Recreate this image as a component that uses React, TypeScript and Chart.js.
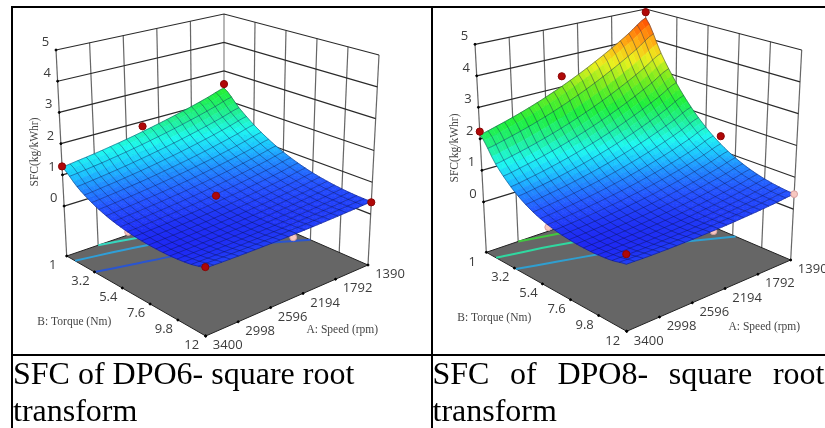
import React, { useEffect, useRef } from "react";
import { Chart, registerables } from "chart.js";

Chart.register(...registerables);

// Axis ticks
const SPEED_TICKS = [3400, 2998, 2596, 2194, 1792, 1390];
const TORQUE_TICKS = [1, 3.2, 5.4, 7.6, 9.8, 12];
const SFC_TICKS = [0, 1, 2, 3, 4, 5];
const SFC_FLOOR = -1.6;
const SFC_TOP = 5;

// Surface read-outs: one row per speed (3400 to 1390), one value per torque (1 to 12)
const SPEED_GRID = [3400, 3199, 2998, 2797, 2596, 2395, 2194, 1993, 1792, 1591, 1390];
const TORQUE_GRID = [1, 2.1, 3.2, 4.3, 5.4, 6.5, 7.6, 8.7, 9.8, 10.9, 12];

const DPO6_3400 = [1.25, 0.858, 0.588, 0.408, 0.294, 0.228, 0.198, 0.197, 0.226, 0.289, 0.399];
const DPO6_3199 = [1.312, 0.913, 0.634, 0.445, 0.323, 0.25, 0.214, 0.207, 0.228, 0.283, 0.379];
const DPO6_2998 = [1.383, 0.976, 0.687, 0.488, 0.357, 0.277, 0.233, 0.22, 0.235, 0.28, 0.363];
const DPO6_2797 = [1.466, 1.049, 0.749, 0.539, 0.398, 0.308, 0.257, 0.237, 0.244, 0.28, 0.351];
const DPO6_2596 = [1.559, 1.131, 0.819, 0.598, 0.445, 0.346, 0.286, 0.258, 0.258, 0.285, 0.344];
const DPO6_2395 = [1.664, 1.225, 0.9, 0.665, 0.5, 0.39, 0.32, 0.284, 0.276, 0.294, 0.341];
const DPO6_2194 = [1.782, 1.33, 0.991, 0.742, 0.564, 0.441, 0.361, 0.315, 0.298, 0.306, 0.342];
const DPO6_1993 = [1.914, 1.448, 1.094, 0.829, 0.636, 0.5, 0.408, 0.352, 0.324, 0.323, 0.347];
const DPO6_1792 = [2.06, 1.58, 1.21, 0.929, 0.72, 0.569, 0.463, 0.395, 0.356, 0.344, 0.357];
const DPO6_1591 = [2.223, 1.728, 1.34, 1.041, 0.815, 0.647, 0.527, 0.445, 0.395, 0.371, 0.371];
const DPO6_1390 = [2.403, 1.891, 1.484, 1.167, 0.922, 0.737, 0.6, 0.504, 0.439, 0.402, 0.389];

const DPO8_3400 = [2.132, 1.428, 0.941, 0.616, 0.41, 0.286, 0.221, 0.198, 0.212, 0.265, 0.372];
const DPO8_3199 = [2.261, 1.534, 1.025, 0.68, 0.456, 0.319, 0.243, 0.211, 0.216, 0.259, 0.349];
const DPO8_2998 = [2.412, 1.659, 1.124, 0.757, 0.514, 0.361, 0.272, 0.23, 0.226, 0.258, 0.334];
const DPO8_2797 = [2.588, 1.806, 1.243, 0.849, 0.583, 0.412, 0.309, 0.256, 0.242, 0.264, 0.326];
const DPO8_2596 = [2.79, 1.975, 1.38, 0.958, 0.668, 0.476, 0.356, 0.29, 0.265, 0.276, 0.325];
const DPO8_2395 = [3.021, 2.17, 1.541, 1.086, 0.768, 0.553, 0.414, 0.333, 0.295, 0.294, 0.331];
const DPO8_2194 = [3.282, 2.392, 1.725, 1.236, 0.887, 0.645, 0.485, 0.386, 0.334, 0.321, 0.343];
const DPO8_1993 = [3.577, 2.645, 1.937, 1.409, 1.026, 0.755, 0.571, 0.451, 0.383, 0.355, 0.364];
const DPO8_1792 = [3.908, 2.931, 2.178, 1.609, 1.189, 0.885, 0.673, 0.531, 0.443, 0.398, 0.392];
const DPO8_1591 = [4.278, 3.253, 2.453, 1.839, 1.377, 1.037, 0.794, 0.625, 0.516, 0.453, 0.429];
const DPO8_1390 = [4.692, 3.614, 2.763, 2.101, 1.595, 1.215, 0.936, 0.738, 0.603, 0.519, 0.476];

const DPO6_TABLE = [DPO6_3400, DPO6_3199, DPO6_2998, DPO6_2797, DPO6_2596, DPO6_2395, DPO6_2194, DPO6_1993, DPO6_1792, DPO6_1591, DPO6_1390];
const DPO8_TABLE = [DPO8_3400, DPO8_3199, DPO8_2998, DPO8_2797, DPO8_2596, DPO8_2395, DPO8_2194, DPO8_1993, DPO8_1792, DPO8_1591, DPO8_1390];

// Design points: [speed, torque, SFC]
const DPO6_ABOVE = [[3400, 1, 1.27], [2395, 1, 1.84], [1390, 1, 2.54], [1390, 12, 0.37], [3400, 12, 0.43], [2395, 6.5, 0.6]];
const DPO6_BELOW = [[3400, 6, 0.26], [2335, 12, 0.26]];
const DPO6_TIP: number[][] = [];
const DPO8_ABOVE = [[3400, 1, 2.23], [2395, 1, 3.35], [1390, 1, 4.89], [1390, 6.5, 1.47], [3400, 12, 0.67]];
const DPO8_BELOW = [[3400, 6, 0.27], [2355, 12, 0.32]];
const DPO8_TIP = [[1390, 12, 0.47]];

// Floor contours: torque at each speed
const CONTOUR_SPEEDS = [3400, 2998, 2596, 2194, 1792, 1390];
const DPO6_C_LOW = [3.2, 3.75, 4.3, 5, 6.1, 7.6];
const DPO6_C_MID = [1.66, 2.05, 2.54, 3.2, 3.97, 5.07];
const DPO6_C_HIGH = [null, 1, 1.55, 2.2, 2.87, 4.08];
const DPO8_C_LOW = [3.31, 3.97, 4.63, 5.4, 6.5, 7.82];
const DPO8_C_MID = [1.77, 2.21, 2.79, 3.48, 4.3, 5.4];
const DPO8_C_HIGH = [null, 1, 1.53, 2.1, 2.7, 3.48];

// Colour ramp of the surface, by SFC
const RAMP_SFC = [0.2, 0.5, 0.8, 1.05, 1.4, 1.8, 2.3, 2.9, 3.5, 4.0, 4.7];
const RAMP_RGB = [
  [30, 40, 245], [36, 84, 255], [32, 140, 255], [28, 195, 255], [30, 248, 240], [32, 240, 150],
  [32, 240, 60], [115, 235, 30], [235, 240, 30], [255, 175, 20], [255, 70, 0],
];

type Cube = { left: number[]; front: number[]; right: number[]; back: number[] };

const DPO6_VIEW: Cube = {
  left: [66.7, 256, 56, 50],
  front: [205.7, 336, 204.5, 112],
  right: [368, 265, 379, 55],
  back: [224, 202, 224, 14],
};
const DPO8_VIEW: Cube = {
  left: [486.3, 252.3, 475, 44.3],
  front: [626.7, 331.3, 625.5, 107],
  right: [790.7, 260, 801.7, 50],
  back: [645.7, 198, 645.7, 9],
};

function project(view: Cube, speed: number, torque: number, sfc: number) {
  const s = (3400 - speed) / 2010;
  const u = (torque - 1) / 11;
  const w = (sfc - SFC_FLOOR) / (SFC_TOP - SFC_FLOOR);
  const a = (1 - s) * (1 - u), b = (1 - s) * u, c = s * u, d = s * (1 - u);
  const m = (i: number) => a * view.left[i] + b * view.front[i] + c * view.right[i] + d * view.back[i];
  return { x: m(0) + (m(2) - m(0)) * w, y: m(1) + (m(3) - m(1)) * w };
}

function ramp(z: number) {
  let i = 0;
  while (i < RAMP_SFC.length - 2 && z > RAMP_SFC[i + 1]) i++;
  const t = Math.max(0, Math.min(1, (z - RAMP_SFC[i]) / (RAMP_SFC[i + 1] - RAMP_SFC[i])));
  const c = RAMP_RGB[i].map((v, k) => Math.round(v + (RAMP_RGB[i + 1][k] - v) * t));
  return `rgb(${c[0]},${c[1]},${c[2]})`;
}

// Smooth curve through read values, like a line's tension
function spline(p0: number, p1: number, p2: number, p3: number, t: number) {
  return 0.5 * (2 * p1 + (p2 - p0) * t + (2 * p0 - 5 * p1 + 4 * p2 - p3) * t * t + (3 * p1 - p0 - 3 * p2 + p3) * t * t * t);
}
function along(arr: number[], pos: number) {
  const i = Math.min(arr.length - 2, Math.floor(pos));
  const at = (k: number) => arr[Math.max(0, Math.min(arr.length - 1, k))];
  return spline(at(i - 1), at(i), at(i + 1), at(i + 2), pos - i);
}
function sample(table: number[][], si: number, ui: number) {
  return along(table.map((row) => along(row, ui)), si);
}

const SUB = 4;
const LAST = (SPEED_GRID.length - 1) * SUB;
const TORQUE_SPAN = TORQUE_GRID[TORQUE_GRID.length - 1] - TORQUE_GRID[0];
const SPEED_SPAN = SPEED_GRID[0] - SPEED_GRID[SPEED_GRID.length - 1];

function buildDatasets(view: Cube, table: number[][], above: number[][], below: number[][], tip: number[][], contours: { t: (number | null)[]; color: string }[]) {
  const layers: any[] = [];
  const line = (pts: { x: number; y: number }[], color: string, width: number, extra: any = {}) =>
    layers.push({ type: "scatter", showLine: true, data: pts, borderColor: color, borderWidth: width, pointRadius: 0, tension: 0, ...extra });
  const dots = (pts: { x: number; y: number }[], fill: string, edge: string, r: number) =>
    layers.push({ type: "scatter", showLine: false, data: pts, backgroundColor: fill, borderColor: edge, borderWidth: 1, pointRadius: r });

  const bottom = SFC_FLOOR;
  // walls
  SPEED_TICKS.slice(1, 5).forEach((sp) =>
    line([project(view, sp, 1, bottom), project(view, sp, 1, SFC_TOP)], "#666666", 1.2));
  TORQUE_TICKS.slice(1, 5).forEach((tq) =>
    line([project(view, 1390, tq, bottom), project(view, 1390, tq, SFC_TOP)], "#666666", 1.2));
  line([project(view, 1390, 1, bottom), project(view, 1390, 1, SFC_TOP)], "#888888", 1.2);
  line([project(view, 3400, 1, bottom), project(view, 3400, 1, SFC_TOP)], "#666666", 1.2);
  line([project(view, 1390, 12, bottom), project(view, 1390, 12, SFC_TOP)], "#666666", 1.2);
  SFC_TICKS.forEach((z) => {
    line([project(view, 3400, 1, z), project(view, 1390, 1, z), project(view, 1390, 12, z)], "#2a2a2a", 1.2);
  });
  // floor
  const floor = [
    project(view, 3400, 1, bottom), project(view, 3400, 12, bottom),
    project(view, 1390, 12, bottom), project(view, 1390, 1, bottom), project(view, 3400, 1, bottom),
  ];
  line(floor, "#222222", 1, { fill: "shape", backgroundColor: "#666666" });
  // contours
  contours.forEach((c) => {
    const pts: { x: number; y: number }[] = [];
    c.t.forEach((tq, i) => { if (tq !== null) pts.push(project(view, CONTOUR_SPEEDS[i], tq, bottom)); });
    line(pts, c.color, 2, { tension: 0.3 });
  });
  // ticks
  dots(SFC_TICKS.map((z) => project(view, 3400, 1, z)), "#000000", "#000000", 1);
  dots(TORQUE_TICKS.map((t) => project(view, 3400, t, bottom)), "#000000", "#000000", 1);
  dots(SPEED_TICKS.map((sp) => project(view, sp, 12, bottom)), "#000000", "#000000", 1);
  // design points under the surface
  dots(below.map((p) => project(view, p[0], p[1], p[2])), "#f8c8c0", "#d8a0a0", 3.4);
  // surface, back to front
  const node = (i: number, j: number) => {
    const sp = SPEED_GRID[0] - (SPEED_SPAN * i) / LAST;
    const tq = TORQUE_GRID[0] + (TORQUE_SPAN * j) / LAST;
    return project(view, sp, tq, sample(table, i / SUB, j / SUB));
  };
  for (let i = LAST - 1; i >= 0; i--) {
    for (let j = 0; j < LAST; j++) {
      const color = ramp(sample(table, (i + 0.5) / SUB, (j + 0.5) / SUB));
      const a = node(i, j);
      line([a, node(i + 1, j), node(i + 1, j + 1), node(i, j + 1), a], color, 0.6, { fill: "shape", backgroundColor: color });
    }
  }
  // mesh
  const mesh = "rgba(8,16,70,0.5)";
  for (let i = 0; i <= LAST; i += 2) {
    const pts = [];
    for (let j = 0; j <= LAST; j++) pts.push(node(i, j));
    line(pts, mesh, 0.8);
  }
  for (let j = 0; j <= LAST; j += 2) {
    const pts = [];
    for (let i = 0; i <= LAST; i++) pts.push(node(i, j));
    line(pts, mesh, 0.8);
  }
  // design points over the surface
  dots(tip.map((p) => project(view, p[0], p[1], p[2])), "#f8c8c0", "#d8a0a0", 3.4);
  dots(above.map((p) => project(view, p[0], p[1], p[2])), "#b00808", "#8a0606", 3.6);
  return layers.reverse();
}

const TICK_FONT = '13px "Open Sans"';
const TITLE_FONT = '11.5px "Liberation Serif"';

function labelPlugin(view: Cube, sfcTitle: number[], torqueTitle: number[], speedTitle: number[]) {
  return {
    id: "cubeLabels",
    afterDatasetsDraw(chart: any) {
      const { ctx, scales } = chart;
      const px = (p: { x: number; y: number }) => ({ x: scales.x.getPixelForValue(p.x), y: scales.y.getPixelForValue(p.y) });
      ctx.save();
      ctx.textAlign = "center";
      ctx.textBaseline = "middle";
      ctx.fillStyle = "#3c3c3c";
      ctx.font = TICK_FONT;
      SFC_TICKS.forEach((z) => {
        const p = px(project(view, 3400, 1, z));
        ctx.fillText(String(z), p.x - 10.5, p.y - 7.7);
      });
      TORQUE_TICKS.forEach((t) => {
        const p = px(project(view, 3400, t, SFC_FLOOR));
        ctx.fillText(String(t), p.x - 14, p.y + 9.5);
      });
      SPEED_TICKS.forEach((sp) => {
        const p = px(project(view, sp, 12, SFC_FLOOR));
        ctx.fillText(String(sp), p.x + 22, p.y + 9.5);
      });
      ctx.font = TITLE_FONT;
      ctx.fillStyle = "#444444";
      let p = px({ x: torqueTitle[0], y: torqueTitle[1] });
      ctx.fillText("B: Torque (Nm)", p.x, p.y);
      p = px({ x: speedTitle[0], y: speedTitle[1] });
      ctx.fillText("A: Speed (rpm)", p.x, p.y);
      p = px({ x: sfcTitle[0], y: sfcTitle[1] });
      ctx.translate(p.x, p.y);
      ctx.rotate(-Math.PI / 2);
      ctx.fillText("SFC(kg/kWhr)", 0, 0);
      ctx.restore();
    },
  };
}

type PanelProps = {
  left: number; width: number; view: Cube; table: number[][]; above: number[][]; below: number[][]; tip: number[][];
  contours: { t: (number | null)[]; color: string }[]; sfcTitle: number[]; torqueTitle: number[]; speedTitle: number[];
};

const TOP = 8;
const HEIGHT = 346;

function Panel(props: PanelProps) {
  const ref = useRef<HTMLCanvasElement>(null);
  useEffect(() => {
    const { left, width, view, table, above, below, tip, contours, sfcTitle, torqueTitle, speedTitle } = props;
    const chart = new Chart(ref.current as HTMLCanvasElement, {
      type: "scatter",
      data: { datasets: buildDatasets(view, table, above, below, tip, contours) },
      options: {
        animation: false,
        responsive: false,
        devicePixelRatio: 1,
        events: [],
        layout: { padding: 0, autoPadding: false },
        parsing: false,
        normalized: true,
        plugins: { legend: { display: false }, tooltip: { enabled: false }, title: { display: false } },
        scales: {
          x: { type: "linear", display: false, min: left, max: left + width },
          y: { type: "linear", display: false, min: TOP, max: TOP + HEIGHT, reverse: true },
        },
      },
      plugins: [labelPlugin(view, sfcTitle, torqueTitle, speedTitle)],
    } as any);
    return () => chart.destroy();
  }, []);
  return (
    <canvas
      ref={ref}
      width={props.width}
      height={HEIGHT}
      style={{ position: "absolute", left: props.left, top: TOP, width: props.width, height: HEIGHT, display: "block", filter: "blur(0.4px)" }}
    />
  );
}

const CAPTION_LEFT = "SFC of DPO6- square root transform";
const CAPTION_RIGHT = "SFC of DPO8- square root transform";

const rule = (left: number, top: number, width: number, height: number): React.CSSProperties => ({
  position: "absolute", left, top, width, height, background: "#000",
});
const caption = (left: number, width: number, align: "left" | "justify"): React.CSSProperties => ({
  position: "absolute", left, top: 355, width, font: '32px "Liberation Serif"', lineHeight: "36.7px", color: "#000", textAlign: align,
});

export default function App() {
  return (
    <div style={{ position: "fixed", left: 0, top: 0, width: 825, height: 428, overflow: "hidden", background: "#fff" }}>
      <Panel
        left={13} width={418} view={DPO6_VIEW} table={DPO6_TABLE} above={DPO6_ABOVE} below={DPO6_BELOW} tip={DPO6_TIP}
        contours={[{ t: DPO6_C_LOW, color: "#2a55d0" }, { t: DPO6_C_MID, color: "#2f9fd8" }, { t: DPO6_C_HIGH, color: "#35d8c0" }]}
        sfcTitle={[35, 152]} torqueTitle={[74.3, 322.3]} speedTitle={[342.3, 330]}
      />
      <Panel
        left={433} width={392} view={DPO8_VIEW} table={DPO8_TABLE} above={DPO8_ABOVE} below={DPO8_BELOW} tip={DPO8_TIP}
        contours={[{ t: DPO8_C_LOW, color: "#2f9fd0" }, { t: DPO8_C_MID, color: "#30d8a0" }, { t: DPO8_C_HIGH, color: "#40c840" }]}
        sfcTitle={[455, 148]} torqueTitle={[494.3, 318.3]} speedTitle={[764.3, 326.7]}
      />
      <div style={rule(11, 6, 814, 2)} />
      <div style={rule(11, 6, 2, 422)} />
      <div style={rule(431, 6, 2, 422)} />
      <div style={rule(11, 354, 814, 2)} />
      <div style={caption(13, 416, "left")}>{CAPTION_LEFT}</div>
      <div style={caption(432.5, 392, "justify")}>{CAPTION_RIGHT}</div>
    </div>
  );
}
